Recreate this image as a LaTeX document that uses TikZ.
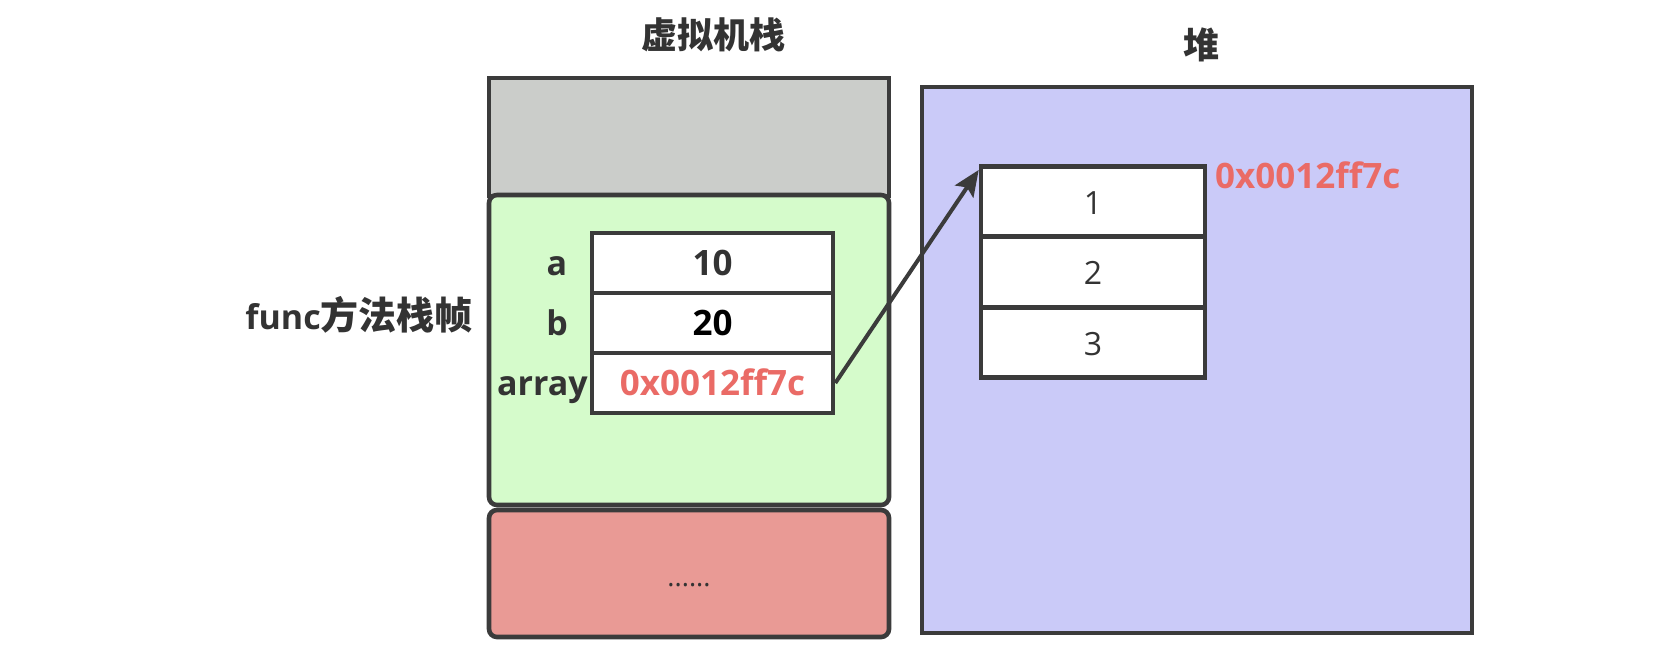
\documentclass[tikz,border=0pt]{standalone}
\usepackage{fontspec}
\setmainfont{Open Sans}
\newfontfamily\cjk{Noto Sans CJK SC}
\usetikzlibrary{arrows.meta}
\definecolor{bd}{HTML}{3B3B3B}
\definecolor{txt}{HTML}{333333}
\definecolor{stackgray}{HTML}{CBCDCA}
\definecolor{framegreen}{HTML}{D5FBCB}
\definecolor{framered}{HTML}{E99A95}
\definecolor{heapblue}{HTML}{CACAF8}
\definecolor{addr}{HTML}{EA6B66}
\begin{document}
\begin{tikzpicture}[x=1pt,y=-1pt,
  frame/.style={draw=bd, line width=4.6pt},
  cell/.style={draw=bd, line width=4.6pt, fill=white, inner sep=0pt,
    text height=25pt, text depth=0pt},
  scell/.style={cell, minimum width=241pt, minimum height=60pt,
    font=\fontsize{35}{40}\selectfont\bfseries, text=txt},
  hcell/.style={cell, minimum width=224pt, minimum height=70.5pt,
    font=\fontsize{32}{38}\selectfont, text=txt},
  lbl/.style={inner sep=0pt, text height=25pt, text depth=0pt,
    font=\fontsize{34}{40}\selectfont\bfseries, text=txt},
  title/.style={inner sep=0pt, font=\fontsize{36}{40}\selectfont\cjk\bfseries, text=txt},
  ptr/.style={draw=bd, line width=4pt,
    -{Stealth[length=26pt,width=22pt,inset=5pt]}}
]
\useasboundingbox (0,0) rectangle (1669,669);

% stack frames
\draw[frame, fill=stackgray] (489,78) rectangle (889,196);
\draw[frame, fill=framegreen, rounded corners=8pt] (489,195) rectangle (889,505);
\draw[frame, fill=framered, rounded corners=8pt] (489,510) rectangle (889,637);

% heap
\draw[frame, fill=heapblue] (922,87) rectangle (1472,633);

% titles
\node[title] (ttl) at (713,35) {虚拟机栈};
\node[title] (htl) at (1201,45) {堆};
\node[lbl, anchor=base east] (fn) at (473,329)
  {func{\fontsize{38}{40}\selectfont\cjk\bfseries 方法栈帧}};

% stack table
\node[scell] (s1) at (712.5,263) {10};
\node[scell, text=black] (s2) at (712.5,323) {20};
\node[scell, text=addr] (s3) at (712.5,383) {0x0012ff7c};
\node[lbl] (la) at (557,263) {a};
\node[lbl] (lb) at (557,323) {b};
\node[lbl, anchor=east] (lc) at (588,383) {array};

% dots
\node[inner sep=0pt, anchor=base, font=\fontsize{27}{30}\selectfont, text=txt] (dots) at (689,586) {......};

% heap table
\node[hcell] (h1) at (1093,201.5) {1};
\node[hcell] (h2) at (1093,272) {2};
\node[hcell] (h3) at (1093,342.5) {3};
\node[lbl, anchor=west, text=addr, font=\fontsize{35}{40}\selectfont\bfseries] (haddr) at (1215,176) {0x0012ff7c};

% pointer
\draw[ptr] (s3.east) -- ([yshift=-6pt]h1.north west);
\end{tikzpicture}
\end{document}
